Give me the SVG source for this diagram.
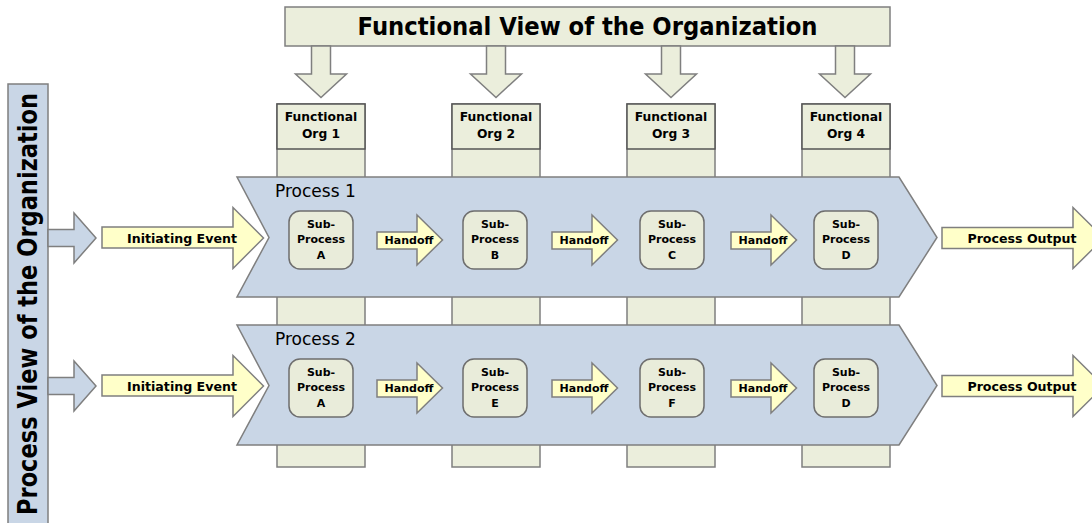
<svg xmlns="http://www.w3.org/2000/svg" width="1092" height="523" viewBox="0 0 1092 523">
<style>
.beige{fill:#EBEEDC;stroke:#7F7F7F;stroke-width:1.5}
.hdr{fill:#EBEEDC;stroke:#555555;stroke-width:1.5}
.blue{fill:#C9D6E6;stroke:#7F7F7F;stroke-width:1.5}
.yel{fill:#FFFFC9;stroke:#7F7F7F;stroke-width:1.5}
.sub{fill:#E9ECDA;stroke:#6E6E6E;stroke-width:1.5}
text{font-family:"DejaVu Sans","Liberation Sans",sans-serif;fill:#000}
.b{font-weight:bold;text-anchor:middle}
.big{font-size:24px}
.org{font-size:12.3px}
.lbl{font-size:12.6px}
.sm{font-size:11px}
.proc{font-size:17px}
</style>
<defs>
<polygon id="down" points="-9.5,46 9.5,46 9.5,74 25.5,74 0,97.5 -25.5,74 -9.5,74"/>
<polygon id="bluearr" points="48,229.5 74,229.5 74,213 96,238 74,263 74,246.5 48,246.5"/>
<polygon id="handoff" points="0,232 40,232 40,215 65.5,240 40,265 40,249 0,249"/>
<rect id="subbox" x="-32" y="211" width="64" height="58" rx="11" ry="11"/>
</defs>

<g id="title">
<rect class="beige" x="285" y="7" width="605" height="39"/>
<text class="b big" x="587.5" y="35" textLength="460" lengthAdjust="spacingAndGlyphs">Functional View of the Organization</text>
</g>

<g id="process-view">
<rect class="blue" x="8" y="84" width="40" height="445"/>
<text class="b" style="font-size:27px" transform="translate(37,304) rotate(-90)" x="0" y="0" textLength="422" lengthAdjust="spacingAndGlyphs">Process View of the Organization</text>
</g>

<g id="columns">
<g id="org1">
<rect class="beige" x="277" y="104" width="88" height="363"/>
<rect class="hdr" x="277" y="104" width="88" height="45"/>
<text class="b org" x="321" y="121">Functional</text>
<text class="b org" x="321" y="138">Org 1</text>
</g>
<g id="org2">
<rect class="beige" x="452" y="104" width="88" height="363"/>
<rect class="hdr" x="452" y="104" width="88" height="45"/>
<text class="b org" x="496" y="121">Functional</text>
<text class="b org" x="496" y="138">Org 2</text>
</g>
<g id="org3">
<rect class="beige" x="627" y="104" width="88" height="363"/>
<rect class="hdr" x="627" y="104" width="88" height="45"/>
<text class="b org" x="671" y="121">Functional</text>
<text class="b org" x="671" y="138">Org 3</text>
</g>
<g id="org4">
<rect class="beige" x="802" y="104" width="88" height="363"/>
<rect class="hdr" x="802" y="104" width="88" height="45"/>
<text class="b org" x="846" y="121">Functional</text>
<text class="b org" x="846" y="138">Org 4</text>
</g>
</g>

<g id="process1">
<polygon class="blue" points="237,177 899,177 937,237.5 899,297 237,297 269,237.5"/>
<text class="proc" x="275" y="197">Process 1</text>
</g>
<g id="process2">
<polygon class="blue" points="237,325 899,325 937,385.5 899,445 237,445 269,385.5"/>
<text class="proc" x="275" y="345">Process 2</text>
</g>

<g id="subprocesses">
<g id="p1-subA"><use href="#subbox" class="sub" x="321"/>
<text class="b sm" x="321" y="227.5">Sub-</text><text class="b sm" x="321" y="243">Process</text><text class="b sm" x="321" y="258.5">A</text></g>
<g id="p1-subB"><use href="#subbox" class="sub" x="495"/>
<text class="b sm" x="495" y="227.5">Sub-</text><text class="b sm" x="495" y="243">Process</text><text class="b sm" x="495" y="258.5">B</text></g>
<g id="p1-subC"><use href="#subbox" class="sub" x="672"/>
<text class="b sm" x="672" y="227.5">Sub-</text><text class="b sm" x="672" y="243">Process</text><text class="b sm" x="672" y="258.5">C</text></g>
<g id="p1-subD"><use href="#subbox" class="sub" x="846"/>
<text class="b sm" x="846" y="227.5">Sub-</text><text class="b sm" x="846" y="243">Process</text><text class="b sm" x="846" y="258.5">D</text></g>
<g id="p2-subA"><use href="#subbox" class="sub" x="321" y="148"/>
<text class="b sm" x="321" y="375.5">Sub-</text><text class="b sm" x="321" y="391">Process</text><text class="b sm" x="321" y="406.5">A</text></g>
<g id="p2-subE"><use href="#subbox" class="sub" x="495" y="148"/>
<text class="b sm" x="495" y="375.5">Sub-</text><text class="b sm" x="495" y="391">Process</text><text class="b sm" x="495" y="406.5">E</text></g>
<g id="p2-subF"><use href="#subbox" class="sub" x="672" y="148"/>
<text class="b sm" x="672" y="375.5">Sub-</text><text class="b sm" x="672" y="391">Process</text><text class="b sm" x="672" y="406.5">F</text></g>
<g id="p2-subD"><use href="#subbox" class="sub" x="846" y="148"/>
<text class="b sm" x="846" y="375.5">Sub-</text><text class="b sm" x="846" y="391">Process</text><text class="b sm" x="846" y="406.5">D</text></g>
</g>

<g id="connectors">
<g id="down-arrows">
<use href="#down" class="beige" x="321"/>
<use href="#down" class="beige" x="496"/>
<use href="#down" class="beige" x="671"/>
<use href="#down" class="beige" x="845"/>
</g>
<g id="view-arrows">
<use href="#bluearr" class="blue"/>
<use href="#bluearr" class="blue" y="148"/>
</g>
<g id="initiating1">
<polygon class="yel" points="102,227 233,227 233,207.5 263.5,238 233,268.5 233,248 102,248"/>
<text class="b lbl" x="182" y="242.5">Initiating Event</text>
</g>
<g id="initiating2">
<polygon class="yel" points="102,375 233,375 233,355.5 263.5,386 233,416.5 233,396 102,396"/>
<text class="b lbl" x="182" y="390.5">Initiating Event</text>
</g>
<g id="output1">
<polygon class="yel" points="942,227.5 1073,227.5 1073,207.5 1104,238 1073,268.5 1073,248.5 942,248.5"/>
<text class="b lbl" x="1022" y="242.5">Process Output</text>
</g>
<g id="output2">
<polygon class="yel" points="942,375.5 1073,375.5 1073,355.5 1104,386 1073,416.5 1073,396.5 942,396.5"/>
<text class="b lbl" x="1022" y="390.5">Process Output</text>
</g>
<g id="handoffs">
<g><use href="#handoff" class="yel" x="377"/><text class="b sm" x="409" y="244">Handoff</text></g>
<g><use href="#handoff" class="yel" x="552"/><text class="b sm" x="584" y="244">Handoff</text></g>
<g><use href="#handoff" class="yel" x="731"/><text class="b sm" x="763" y="244">Handoff</text></g>
<g><use href="#handoff" class="yel" x="377" y="148"/><text class="b sm" x="409" y="392">Handoff</text></g>
<g><use href="#handoff" class="yel" x="552" y="148"/><text class="b sm" x="584" y="392">Handoff</text></g>
<g><use href="#handoff" class="yel" x="731" y="148"/><text class="b sm" x="763" y="392">Handoff</text></g>
</g>
</g>
</svg>
